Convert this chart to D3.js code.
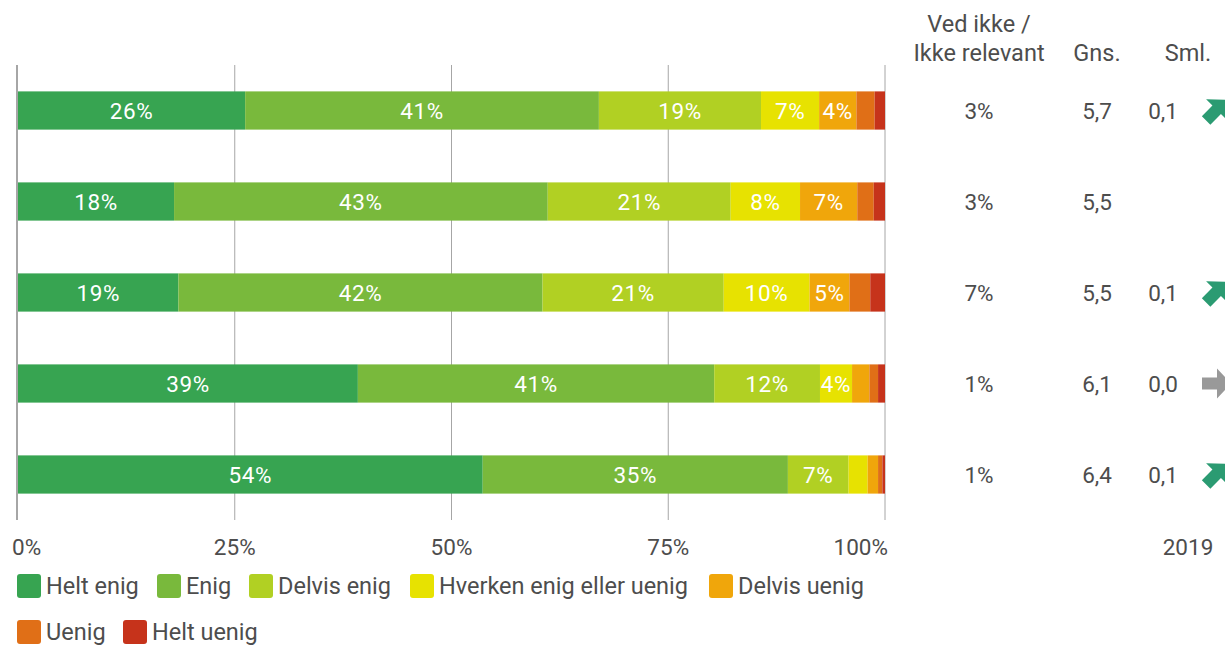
<!DOCTYPE html>
<html>
<head>
<meta charset="utf-8">
<script src="https://cdn.jsdelivr.net/npm/d3@7"></script>
<style>
    body { margin: 0; background: #fff; }
    text { font-family: Roboto, "Noto Sans", sans-serif; }
</style>
</head>
<body>
<svg id="chart" width="1225" height="645"></svg>
<script>
// data
const categories = ["Helt enig", "Enig", "Delvis enig", "Hverken enig eller uenig", "Delvis uenig", "Uenig", "Helt uenig"];
const colors = ["#37a451", "#79b93c", "#b1d023", "#e7e201", "#f0a60b", "#e06f17", "#c6331b"];
const rows = [
    [26.2, 40.8, 18.7, 6.7, 4.3, 2.1, 1.2],
    [18.0, 43.1, 21.1, 8.0, 6.6, 1.9, 1.3],
    [18.5, 42.0, 20.9, 9.9, 4.6, 2.4, 1.7],
    [39.2, 41.1, 12.2, 3.7, 2.0, 1.0, 0.8],
    [53.6, 35.2, 7.0, 2.2, 1.2, 0.5, 0.3]
];
const vetIkke = ["3%", "3%", "7%", "1%", "1%"];
const gns = ["5,7", "5,5", "5,5", "6,1", "6,4"];
const sml = ["0,1", "", "0,1", "0,0", "0,1"];
const trend = ["up", null, "up", "flat", "up"];
const xTicks = [0, 25, 50, 75, 100];

const svg = d3.select("#chart");
const textColor = "#4d4d4d";

const x = d3.scaleLinear().domain([0, 100]).range([18, 885]);
const y = d3.scaleBand().domain(d3.range(rows.length)).range([65, 520]).paddingInner(0.58).paddingOuter(0.29);

// gridlines
svg.append("g").selectAll("line")
    .data(xTicks.slice(1))
    .join("line")
    .attr("x1", d => x(d)).attr("x2", d => x(d))
    .attr("y1", 65).attr("y2", 520)
    .attr("stroke", "#a6a6a6").attr("stroke-width", 1);

// bars
rows.forEach((vals, i) => {
    let acc = 0;
    const segs = vals.map((v, k) => { const s = { v, k, x0: acc }; acc += v; return s; });
    const g = svg.append("g");
    g.selectAll("rect").data(segs).join("rect")
        .attr("x", d => x(d.x0))
        .attr("width", d => x(d.x0 + d.v) - x(d.x0))
        .attr("y", y(i)).attr("height", y.bandwidth())
        .attr("fill", d => colors[d.k]);
    g.selectAll("text").data(segs.filter(d => Math.round(d.v) >= 4)).join("text")
        .attr("x", d => x(d.x0 + d.v / 2))
        .attr("y", y(i) + y.bandwidth() / 2)
        .attr("dy", "0.36em")
        .attr("text-anchor", "middle")
        .attr("fill", "#fff")
        .attr("font-size", 22.5)
        .attr("letter-spacing", 0.6)
        .text(d => Math.round(d.v) + "%");
});

// left axis line
svg.append("line")
    .attr("x1", 17).attr("x2", 17).attr("y1", 65).attr("y2", 520)
    .attr("stroke", "#a6a6a6").attr("stroke-width", 2);

// x tick labels (first and last kept inside the plot edges)
svg.append("g").selectAll("text")
    .data(xTicks)
    .join("text")
    .attr("x", (d, i) => i === 0 ? 12 : i === xTicks.length - 1 ? 888 : x(d))
    .attr("y", 555)
    .attr("text-anchor", (d, i) => i === 0 ? "start" : i === xTicks.length - 1 ? "end" : "middle")
    .attr("fill", textColor)
    .attr("font-size", 22.5)
    .text(d => d + "%");

// right columns
const colVet = 979, colGns = 1097, colSml = 1163, colArrow = 1216;
const header = svg.append("g").attr("fill", textColor).attr("font-size", 23.5).attr("text-anchor", "middle");
header.append("text").attr("x", colVet).attr("y", 32).text("Ved ikke /");
header.append("text").attr("x", colVet).attr("y", 61).text("Ikke relevant");
header.append("text").attr("x", colGns).attr("y", 61).text("Gns.");
header.append("text").attr("x", 1188).attr("y", 61).text("Sml.");
svg.append("text").attr("x", 1188).attr("y", 555).attr("text-anchor", "middle")
    .attr("fill", textColor).attr("font-size", 22.5).text("2019");

rows.forEach((vals, i) => {
    const cy = y(i) + y.bandwidth() / 2;
    const g = svg.append("g").attr("fill", textColor).attr("font-size", 22.5).attr("text-anchor", "middle");
    g.append("text").attr("x", colVet).attr("y", cy).attr("dy", "0.36em").text(vetIkke[i]);
    g.append("text").attr("x", colGns).attr("y", cy).attr("dy", "0.36em").text(gns[i]);
    if (sml[i]) g.append("text").attr("x", colSml).attr("y", cy).attr("dy", "0.36em").text(sml[i]);
    if (trend[i]) {
        // right-pointing arrow, rotated for "up"
        const arrow = "M-14,-6 L1,-6 L1,-15 L15,0 L1,15 L1,6 L-14,6 Z";
        svg.append("path")
            .attr("d", arrow)
            .attr("transform", `translate(${colArrow},${cy}) rotate(${trend[i] === "up" ? -45 : 0})`)
            .attr("fill", trend[i] === "up" ? "#2b9b72" : "#999999");
    }
});

// legend
const legendItems = [
    { k: 0, x: 17, y: 586 }, { k: 1, x: 157, y: 586 }, { k: 2, x: 249, y: 586 },
    { k: 3, x: 410, y: 586 }, { k: 4, x: 709, y: 586 },
    { k: 5, x: 17, y: 632 }, { k: 6, x: 123, y: 632 }
];
const lg = svg.append("g").selectAll("g").data(legendItems).join("g")
    .attr("transform", d => `translate(${d.x},${d.y})`);
lg.append("rect")
    .attr("x", 0).attr("y", -12).attr("width", 24).attr("height", 24).attr("rx", 3)
    .attr("fill", d => colors[d.k]);
lg.append("text")
    .attr("x", 29).attr("dy", "0.36em")
    .attr("fill", textColor).attr("font-size", 23.5)
    .text(d => categories[d.k]);
</script>
</body>
</html>
